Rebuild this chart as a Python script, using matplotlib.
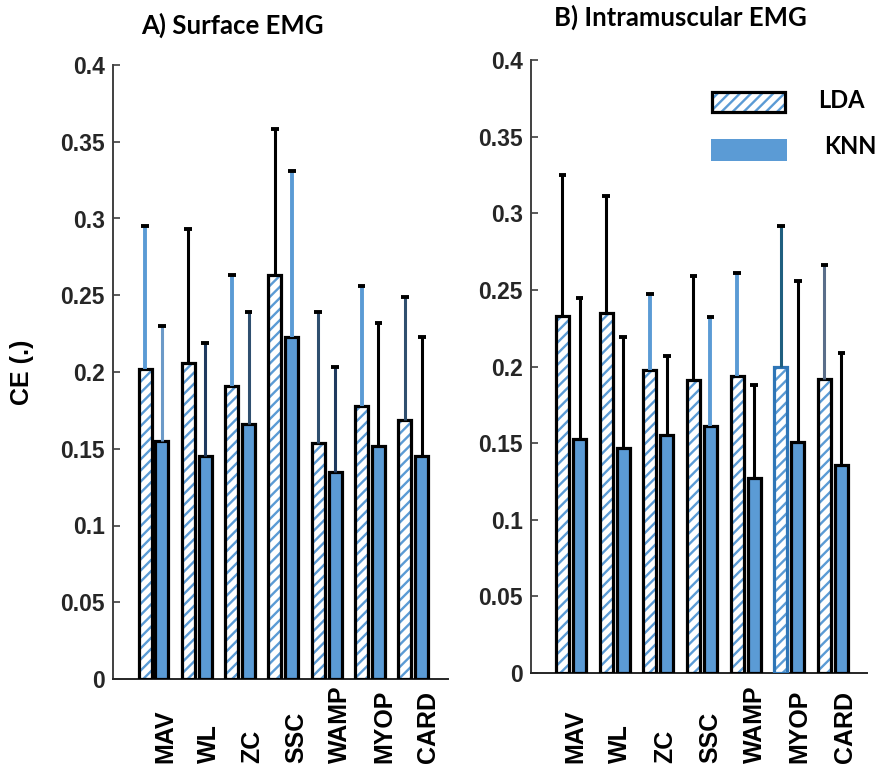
import matplotlib
matplotlib.use("Agg")
import matplotlib.pyplot as plt
from matplotlib.patches import Rectangle
import numpy as np

features = ["MAV", "WL", "ZC", "SSC", "WAMP", "MYOP", "CARD"]

# classification error (mean and sd) per feature
surf_lda = [0.202, 0.206, 0.191, 0.263, 0.154, 0.178, 0.169]
surf_lda_sd = [0.093, 0.087, 0.072, 0.095, 0.085, 0.078, 0.080]
surf_knn = [0.155, 0.145, 0.166, 0.223, 0.135, 0.152, 0.145]
surf_knn_sd = [0.075, 0.074, 0.073, 0.108, 0.068, 0.080, 0.078]

intra_lda = [0.233, 0.235, 0.198, 0.191, 0.194, 0.200, 0.192]
intra_lda_sd = [0.092, 0.076, 0.049, 0.068, 0.067, 0.092, 0.074]
intra_knn = [0.153, 0.147, 0.155, 0.161, 0.127, 0.151, 0.136]
intra_knn_sd = [0.092, 0.072, 0.052, 0.071, 0.061, 0.105, 0.073]

BLUE = "#5b9bd5"
LIGHT = "#5b9bd5"
DARK = "#2f4f6f"
NAVY = "#1f3a5f"
TEAL = "#1f5f7f"
SLATE = "#5a6e8a"

# error bar line colours, one per bar
surf_lda_ec = [LIGHT, "black", LIGHT, "black", DARK, LIGHT, DARK]
surf_knn_ec = ["#6c9ac8", NAVY, DARK, LIGHT, NAVY, "black", "black"]
intra_lda_ec = ["black", "black", LIGHT, "black", LIGHT, TEAL, SLATE]
intra_knn_ec = ["black", "black", "black", LIGHT, "black", "black", "black"]

plt.rcParams["hatch.linewidth"] = 1.7
tick_font = ["Liberation Sans", "DejaVu Sans"]
title_font = ["Lato", "DejaVu Sans"]

fig = plt.figure(figsize=(8.75, 7.7), dpi=100)
W, H = 875, 770


def px_axes(l, r, b, t):
    return fig.add_axes([l / W, 1 - b / H, (r - l) / W, (b - t) / H])


def draw_panel(ax, lda, lda_sd, knn, knn_sd, lda_ec, knn_ec, xlim,
               lab_off, lab_step, lda_edges):
    x = np.arange(len(features))
    w = 0.30
    d = 0.195
    for i in range(len(x)):
        ax.bar(x[i] - d, lda[i], w, color="white", edgecolor=BLUE,
               hatch="///", linewidth=0, zorder=2)
        ax.bar(x[i] - d, lda[i], w, fill=False, edgecolor=lda_edges[i],
               linewidth=2.3, zorder=3)
    ax.bar(x + d, knn, w, color=BLUE, edgecolor="black", linewidth=2.3,
           zorder=3)

    # one-sided error bars
    for xs, m, s, ec in [(x - d, lda, lda_sd, lda_ec),
                         (x + d, knn, knn_sd, knn_ec)]:
        m = np.array(m)
        s = np.array(s)
        for i in range(len(xs)):
            lw = 2.8 if ec[i] == LIGHT else 2.2
            ax.vlines(xs[i], m[i], m[i] + s[i], color=ec[i], lw=lw, zorder=4)
            ax.hlines(m[i] + s[i], xs[i] - 0.09, xs[i] + 0.09,
                      color="black", lw=2.8, zorder=5)

    ax.set_xlim(*xlim)
    ax.set_ylim(0, 0.4)
    ax.set_yticks(np.arange(0, 0.401, 0.05))
    ax.set_yticklabels(["0", "0.05", "0.1", "0.15", "0.2", "0.25", "0.3",
                        "0.35", "0.4"])
    ax.set_xticks([])
    for lab in ax.get_yticklabels():
        lab.set_fontfamily(tick_font)
        lab.set_fontweight("bold")
        lab.set_fontsize(16.5)
        lab.set_color("#262626")
    ax.tick_params(axis="y", direction="in", length=5, width=1.2,
                   color="#404040", pad=6)
    ax.spines["top"].set_visible(False)
    ax.spines["right"].set_visible(False)
    ax.spines["left"].set_color("#404040")
    ax.spines["left"].set_linewidth(1.4)
    ax.spines["bottom"].set_color("#262626")
    ax.spines["bottom"].set_linewidth(1.4)

    trans = matplotlib.transforms.blended_transform_factory(ax.transData,
                                                            fig.transFigure)
    for i, name in enumerate(features):
        ax.text(lab_off + i * lab_step, 1 - 763 / H, name, rotation=90,
                ha="center", va="bottom", transform=trans,
                fontfamily=tick_font, fontweight="bold", fontsize=18,
                color="black")


ax1 = px_axes(113, 448, 679, 65)
draw_panel(ax1, surf_lda, surf_lda_sd, surf_knn, surf_knn_sd,
           surf_lda_ec, surf_knn_ec, (-0.935, 6.80), 0.27, 1.01,
           ["black"] * 7)

ax2 = px_axes(531, 867, 673, 60)
draw_panel(ax2, intra_lda, intra_lda_sd, intra_knn, intra_knn_sd,
           intra_lda_ec, intra_knn_ec, (-0.916, 6.78), 0.09, 1.03,
           ["black"] * 5 + ["#2e75b6", "black"])

fig.text(232 / W, 1 - 25 / H, "A) Surface EMG", ha="center", va="center",
         fontfamily=title_font, fontweight="bold", fontsize=18.5)
fig.text(680 / W, 1 - 17 / H, "B) Intramuscular EMG", ha="center",
         va="center", fontfamily=title_font, fontweight="bold", fontsize=18.5)
fig.text(22 / W, 1 - 372 / H, "CE (.)", rotation=90, ha="center",
         va="center", fontfamily=tick_font, fontweight="bold", fontsize=18)

# legend
leg_h = Rectangle((712 / W, 1 - 112 / H), 73 / W, 20 / H,
                  transform=fig.transFigure, facecolor="white",
                  edgecolor=BLUE, hatch="///", linewidth=0)
leg_e = Rectangle((712 / W, 1 - 112 / H), 73 / W, 20 / H,
                  transform=fig.transFigure, fill=False, edgecolor="black",
                  linewidth=2.3)
leg_k = Rectangle((711 / W, 1 - 161 / H), 76 / W, 22 / H,
                  transform=fig.transFigure, facecolor=BLUE, linewidth=0)
for p in (leg_h, leg_e, leg_k):
    fig.add_artist(p)
fig.text(818 / W, 1 - 100 / H, "LDA", ha="left", va="center",
         fontfamily=title_font, fontweight="bold", fontsize=17)
fig.text(824 / W, 1 - 146 / H, "KNN", ha="left", va="center",
         fontfamily=title_font, fontweight="bold", fontsize=17)

fig.savefig("out.png", dpi=100)
